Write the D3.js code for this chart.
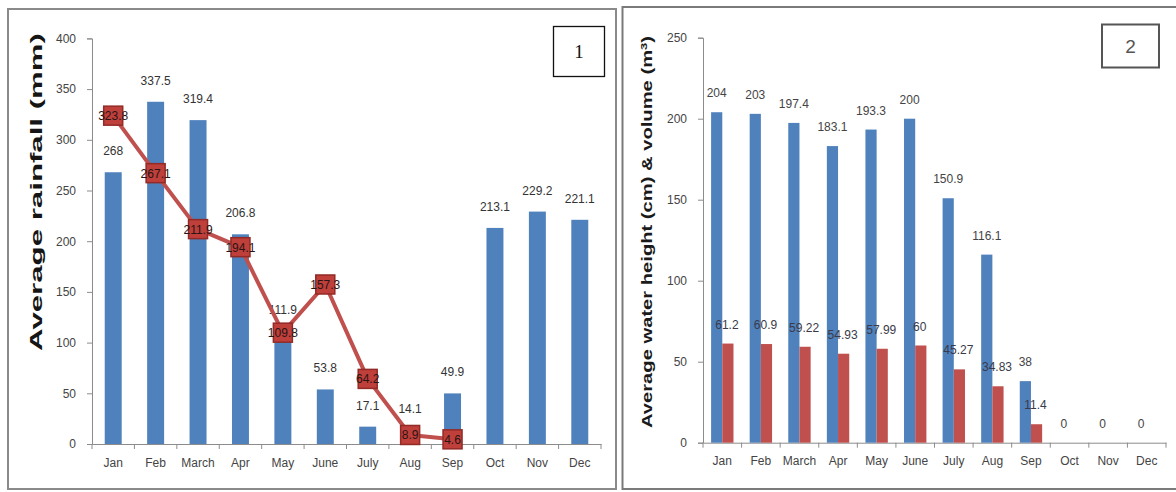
<!DOCTYPE html>
<html>
<head>
<meta charset="utf-8">
<script src="https://cdn.jsdelivr.net/npm/d3@7"></script>
<style>
  html, body { margin: 0; padding: 0; background: #fff; }
  svg { display: block; font-family: "Liberation Sans", Arial, sans-serif; }
</style>
</head>
<body>
<svg id="chart" width="1176" height="492"></svg>
<script>
// Month categories shared by both panels
const months = ["Jan", "Feb", "March", "Apr", "May", "June", "July", "Aug", "Sep", "Oct", "Nov", "Dec"];

// Panel 1: average rainfall (mm) — bars and line series
const rainfallBars = [268, 337.5, 319.4, 206.8, 111.9, 53.8, 17.1, 14.1, 49.9, 213.1, 229.2, 221.1];
const rainfallLine = [323.8, 267.1, 211.9, 194.1, 109.8, 157.3, 64.2, 8.9, 4.6, null, null, null];
const rainfallTicks = [0, 50, 100, 150, 200, 250, 300, 350, 400];

// Panel 2: average water height (cm) and volume (m³)
const waterHeight = [204, 203, 197.4, 183.1, 193.3, 200, 150.9, 116.1, 38, 0, 0, 0];
const waterVolume = [61.2, 60.9, 59.22, 54.93, 57.99, 60, 45.27, 34.83, 11.4, null, null, null];
const waterTicks = [0, 50, 100, 150, 200, 250];

const BLUE = "#4f81bd";
const RED = "#c0504d";
const AXIS = "#8c8c8c";

const svg = d3.select("#chart");

// Panel frames
svg.append("rect").attr("x", 8).attr("y", 9).attr("width", 608).attr("height", 480)
  .attr("fill", "#fff").attr("stroke", "#8a8a8a").attr("stroke-width", 2);
svg.append("rect").attr("x", 622.5).attr("y", 7).attr("width", 580).attr("height", 482)
  .attr("fill", "#fff").attr("stroke", "#7a7a7a").attr("stroke-width", 2);

function drawAxes(g, x, y, ticks) {
  const [x0] = x.range();
  const step = x.step();
  const pad = (step - x.bandwidth()) / 2;

  // y axis
  const ya = g.append("g").attr("transform", `translate(${x0},0)`)
    .call(d3.axisLeft(y).tickValues(ticks).tickSize(5).tickPadding(11).tickFormat(d3.format("d")));
  ya.select(".domain").attr("stroke", AXIS);
  ya.selectAll(".tick line").attr("stroke", AXIS);
  ya.selectAll(".tick text").attr("fill", "#444").attr("font-size", 12)
    .attr("font-family", "Liberation Sans, Arial, sans-serif");

  // x axis (labels only), with boundary ticks between categories
  const xa = g.append("g").attr("transform", `translate(0,${y(0)})`)
    .call(d3.axisBottom(x).tickSize(0).tickPadding(14));
  xa.select(".domain").attr("stroke", AXIS);
  xa.selectAll(".tick text").attr("fill", "#444").attr("font-size", 12)
    .attr("font-family", "Liberation Sans, Arial, sans-serif");
  const bounds = months.map(m => x(m) - pad).concat([x(months[months.length - 1]) - pad + step]);
  g.append("g").selectAll("line").data(bounds).join("line")
    .attr("x1", d => d).attr("x2", d => d)
    .attr("y1", y(0)).attr("y2", y(0) + 5)
    .attr("stroke", AXIS);
}

// ---------- Panel 1 ----------
{
  const g = svg.append("g");
  const x = d3.scaleBand().domain(months).range([92, 601]).paddingInner(0.6).paddingOuter(0.3);
  const y = d3.scaleLinear().domain([0, 400]).range([444, 38.4]);

  drawAxes(g, x, y, rainfallTicks);

  const data = months.map((m, i) => ({ m, bar: rainfallBars[i], line: rainfallLine[i] }));

  g.append("g").selectAll("rect").data(data).join("rect")
    .attr("x", d => x(d.m)).attr("width", x.bandwidth())
    .attr("y", d => y(d.bar)).attr("height", d => y(0) - y(d.bar))
    .attr("fill", BLUE);

  g.append("g").selectAll("text").data(data).join("text")
    .attr("x", d => x(d.m) + x.bandwidth() / 2)
    .attr("y", d => y(d.bar) - 17)
    .attr("text-anchor", "middle").attr("font-size", 12).attr("fill", "#333")
    .text(d => d.bar);

  const lineData = data.filter(d => d.line != null);
  const cx = d => x(d.m) + x.bandwidth() / 2;
  g.append("path").datum(lineData)
    .attr("d", d3.line().x(cx).y(d => y(d.line)))
    .attr("fill", "none").attr("stroke", RED).attr("stroke-width", 4)
    .attr("stroke-linejoin", "round");

  const S = 19;
  g.append("g").selectAll("rect").data(lineData).join("rect")
    .attr("x", d => cx(d) - S / 2).attr("y", d => y(d.line) - S / 2)
    .attr("width", S).attr("height", S)
    .attr("fill", "#bf3f3b").attr("stroke", "#922a26").attr("stroke-width", 1.5);

  g.append("g").selectAll("text").data(lineData).join("text")
    .attr("x", cx).attr("y", d => y(d.line) + 4.5)
    .attr("text-anchor", "middle").attr("font-size", 12).attr("fill", "#2a1414")
    .text(d => d.line);

  // y-axis title
  g.append("text")
    .attr("transform", "translate(42,192) rotate(-90)")
    .attr("text-anchor", "middle").attr("font-size", 16).attr("font-weight", "bold")
    .attr("fill", "#151515")
    .attr("textLength", 318).attr("lengthAdjust", "spacingAndGlyphs")
    .text("Average  rainfall  (mm)");

  // panel number box
  svg.append("rect").attr("x", 553.5).attr("y", 26.5).attr("width", 51).attr("height", 50)
    .attr("fill", "#fff").attr("stroke", "#111").attr("stroke-width", 1.3);
  svg.append("text").attr("x", 579).attr("y", 58).attr("text-anchor", "middle")
    .attr("font-family", "Liberation Serif, Times New Roman, serif").attr("font-size", 19)
    .attr("fill", "#111").text("1");
}

// ---------- Panel 2 ----------
{
  const g = svg.append("g");
  const x = d3.scaleBand().domain(months).range([703, 1166]).paddingInner(0.42).paddingOuter(0.21);
  const sub = d3.scaleBand().domain(["height", "volume"]).range([0, x.bandwidth()]);
  const y = d3.scaleLinear().domain([0, 250]).range([442.7, 37.7]);

  drawAxes(g, x, y, waterTicks);

  const data = months.map((m, i) => ({ m, h: waterHeight[i], v: waterVolume[i] }));

  g.append("g").selectAll("rect").data(data).join("rect")
    .attr("x", d => x(d.m) + sub("height")).attr("width", sub.bandwidth())
    .attr("y", d => y(d.h)).attr("height", d => y(0) - y(d.h))
    .attr("fill", BLUE);

  const vol = data.filter(d => d.v != null);
  g.append("g").selectAll("rect").data(vol).join("rect")
    .attr("x", d => x(d.m) + sub("volume")).attr("width", sub.bandwidth())
    .attr("y", d => y(d.v)).attr("height", d => y(0) - y(d.v))
    .attr("fill", RED);

  g.append("g").selectAll("text").data(data).join("text")
    .attr("x", d => x(d.m) + sub("height") + sub.bandwidth() / 2)
    .attr("y", d => y(d.h) - 15)
    .attr("text-anchor", "middle").attr("font-size", 12).attr("fill", "#444")
    .text(d => d.h);

  g.append("g").selectAll("text").data(vol).join("text")
    .attr("x", d => x(d.m) + sub("volume") + sub.bandwidth() / 2 - 1)
    .attr("y", d => y(d.v) - 15)
    .attr("text-anchor", "middle").attr("font-size", 12).attr("fill", "#3a3a48")
    .text(d => d.v);

  // y-axis title
  const t = g.append("text")
    .attr("transform", "translate(652,232) rotate(-90)")
    .attr("text-anchor", "middle").attr("font-size", 14).attr("font-weight", "bold")
    .attr("fill", "#1a1a1a")
    .attr("textLength", 392).attr("lengthAdjust", "spacingAndGlyphs");
  t.append("tspan").text("Average water height (cm) & volume  (m");
  t.append("tspan").attr("font-size", 9).attr("dy", -5).text("3");
  t.append("tspan").attr("dy", 5).text(")");

  // panel number box
  svg.append("rect").attr("x", 1102).attr("y", 24.5).attr("width", 57).attr("height", 43)
    .attr("fill", "#fff").attr("stroke", "#555").attr("stroke-width", 2);
  svg.append("text").attr("x", 1130.5).attr("y", 53).attr("text-anchor", "middle")
    .attr("font-family", "Liberation Sans, Arial, sans-serif").attr("font-size", 19)
    .attr("fill", "#555").text("2");
}
</script>
</body>
</html>
